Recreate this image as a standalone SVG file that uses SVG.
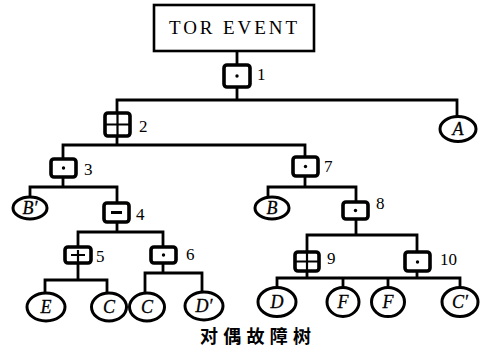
<svg xmlns="http://www.w3.org/2000/svg" width="491" height="347" viewBox="0 0 491 347">
<style>
.ln{stroke:#000;stroke-width:2.8;fill:none;stroke-linecap:square}
.gate{fill:#fff;stroke:#000;stroke-width:3.6}
.sym{stroke:#000;stroke-width:2.2;fill:none}
.ev{fill:#fff;stroke:#000;stroke-width:3}
.lab{font-family:"Liberation Serif",serif;font-size:17px;fill:#000}
.evt{font-family:"Liberation Serif",serif;font-size:18px;font-style:italic;fill:#000;text-anchor:middle;stroke:#000;stroke-width:0.3}
</style>
<rect width="491" height="347" fill="#fff"/>
<g id="connectors">
<path class="ln" d="M237 51V65M237 87V100M117 100H457M117 100V113M117 136V145M457 100V116M63 145H305M63 145V159M63 177V187M30 187H117M30 187V197M117 187V203M117 222V232M78 232H163M78 232V247M78 263V280M163 232V247M163 263V273M45 280H107M45 280V294M107 280V294M145 273H202M145 273V294M202 273V292M305 145V157M305 176V187M268 187H356M268 187V197M356 187V202M356 219V235M307 235H417M307 235V252M307 271V278M417 235V252M417 271V278M277 278H460M277 278V288M343 278V288M388 278V288M460 278V288"/>
</g>
<g id="top">
<rect x="154" y="5" width="160" height="46" fill="#fff" stroke="#000" stroke-width="2.6"/>
<text x="233" y="34" font-family="'Liberation Serif',serif" font-size="19" text-anchor="middle" textLength="128" lengthAdjust="spacing">TOR EVENT</text>
</g>
<g id="gate1"><rect class="gate" x="224" y="65" width="26" height="22" rx="3"/><circle cx="237" cy="76" r="1.7"/><text class="lab" x="257" y="80">1</text></g>
<g id="gate2"><rect class="gate" x="105" y="113" width="25" height="23" rx="3"/><path class="sym" d="M117.5 113V136M105 124.5H130"/><text class="lab" x="139" y="132">2</text></g>
<g id="gate3"><rect class="gate" x="51" y="159" width="25" height="18" rx="3"/><circle cx="63.5" cy="168" r="1.7"/><text class="lab" x="84" y="175">3</text></g>
<g id="gate4"><rect class="gate" x="104" y="203" width="25" height="19" rx="3"/><path d="M111 212.5H122" stroke="#000" stroke-width="3"/><text class="lab" x="136" y="220">4</text></g>
<g id="gate5"><rect class="gate" x="65" y="247" width="26" height="16" rx="3"/><path class="sym" d="M71 255H85M78 250V263"/><text class="lab" x="96" y="262">5</text></g>
<g id="gate6"><rect class="gate" x="151" y="247" width="25" height="16" rx="3"/><circle cx="163.5" cy="255" r="1.7"/><text class="lab" x="186" y="260">6</text></g>
<g id="gate7"><rect class="gate" x="293" y="157" width="25" height="19" rx="3"/><circle cx="305.5" cy="166.5" r="1.7"/><text class="lab" x="324" y="172">7</text></g>
<g id="gate8"><rect class="gate" x="343" y="202" width="25" height="17" rx="3"/><circle cx="355.5" cy="210.5" r="1.7"/><text class="lab" x="376" y="209">8</text></g>
<g id="gate9"><rect class="gate" x="295" y="252" width="24" height="19" rx="3"/><path class="sym" d="M307 252V271M295 261.5H319"/><text class="lab" x="327" y="264">9</text></g>
<g id="gate10"><rect class="gate" x="405" y="252" width="25" height="19" rx="3"/><circle cx="417.5" cy="262" r="1.7"/><text class="lab" x="440" y="265">10</text></g>
<g id="evA"><ellipse class="ev" cx="458" cy="129" rx="18" ry="12.5"/><text class="evt" x="458" y="135">A</text></g>
<g id="evB1"><ellipse class="ev" cx="30" cy="208" rx="17" ry="11"/><text class="evt" x="30" y="214">B′</text></g>
<g id="evB"><ellipse class="ev" cx="272" cy="208" rx="17" ry="11"/><text class="evt" x="272" y="214">B</text></g>
<g id="evE"><ellipse class="ev" cx="46" cy="307" rx="19" ry="14"/><text class="evt" x="46" y="313">E</text></g>
<g id="evC1"><ellipse class="ev" cx="109" cy="307" rx="17.5" ry="14"/><text class="evt" x="109" y="313">C</text></g>
<g id="evC2"><ellipse class="ev" cx="147" cy="307" rx="17.5" ry="14"/><text class="evt" x="147" y="313">C</text></g>
<g id="evD1"><ellipse class="ev" cx="204" cy="306" rx="19" ry="14"/><text class="evt" x="204" y="312">D′</text></g>
<g id="evD"><ellipse class="ev" cx="277" cy="302" rx="19" ry="14.5"/><text class="evt" x="277" y="308">D</text></g>
<g id="evF1"><ellipse class="ev" cx="343" cy="302" rx="16" ry="14.5"/><text class="evt" x="343" y="308">F</text></g>
<g id="evF2"><ellipse class="ev" cx="388" cy="302" rx="16.5" ry="14.5"/><text class="evt" x="388" y="308">F</text></g>
<g id="evC3"><ellipse class="ev" cx="460" cy="302" rx="18" ry="14.5"/><text class="evt" x="460" y="308">C′</text></g>
<text x="200" y="343" font-family="'Noto Sans CJK SC',sans-serif" font-weight="bold" font-size="18" textLength="111" lengthAdjust="spacing">对偶故障树</text>
</svg>
